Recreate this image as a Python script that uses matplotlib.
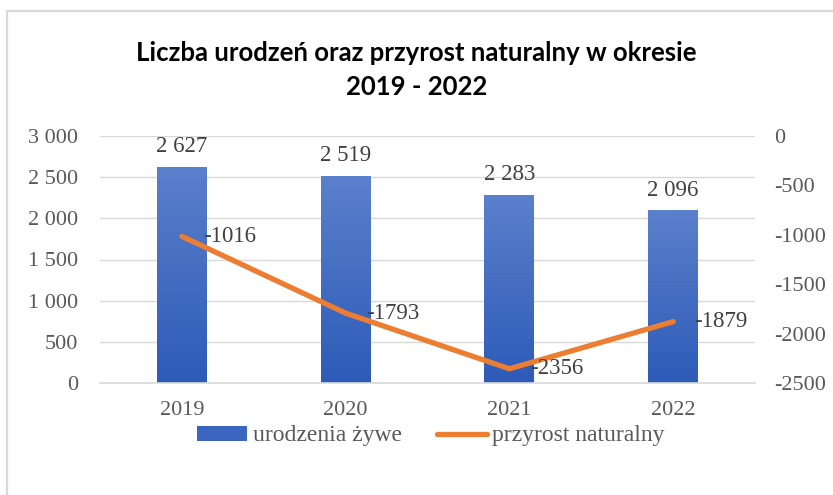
import matplotlib.pyplot as plt
import numpy as np
from matplotlib.lines import Line2D
from matplotlib.patches import Patch

years = ["2019", "2020", "2021", "2022"]
births = [2627, 2519, 2283, 2096]
natural_growth = [-1016, -1793, -2356, -1879]
birth_labels = ["2 627", "2 519", "2 283", "2 096"]
left_ticks = [0, 500, 1000, 1500, 2000, 2500, 3000]
left_tick_labels = ["0", "500", "1 000", "1 500", "2 000", "2 500", "3 000"]
right_ticks = [-2500, -2000, -1500, -1000, -500, 0]

plt.rcParams["axes.unicode_minus"] = False

serif = "Liberation Serif"
text_col = "#595959"
label_col = "#404040"
blue_top = np.array([0x5b, 0x80, 0xcc]) / 255
blue_bot = np.array([0x2d, 0x5b, 0xb8]) / 255
orange = "#ED7D31"

fig = plt.figure(figsize=(8.33, 4.95), dpi=100)
fig.patch.set_facecolor("white")

# frame lines (left and top only)
fig.add_artist(Line2D([7 / 833, 7 / 833], [0, 1 - 11 / 495], color="#d9d9d9", lw=1.6))
fig.add_artist(Line2D([7 / 833, 1], [1 - 11 / 495, 1 - 11 / 495], color="#d9d9d9", lw=1.6))

ax = fig.add_axes([100 / 833, 1 - 383 / 495, 655 / 833, 247 / 495])
x = np.arange(len(years))
bars = ax.bar(x, births, width=0.305, color="none", zorder=2)

# vertical gradient inside each bar
grad = np.linspace(0, 1, 256)[:, None]
cmap_img = blue_bot[None, None, :] * (1 - grad[..., None]) + blue_top[None, None, :] * grad[..., None]
for b in bars:
    x0, y0 = b.get_x(), b.get_y()
    im = ax.imshow(cmap_img, extent=[x0, x0 + b.get_width(), y0, y0 + b.get_height()],
                   origin="lower", aspect="auto", zorder=2)
    im.set_clip_path(b)

ax.set_xlim(-0.5, 3.5)
ax.set_ylim(0, 3000)
ax.set_yticks(left_ticks)
ax.set_yticklabels(left_tick_labels)
ax.set_xticks(x)
ax.set_xticklabels(years)
ax.grid(axis="y", color="#d9d9d9", lw=1.0, zorder=0)
ax.set_axisbelow(True)
for s in ["top", "right", "left"]:
    ax.spines[s].set_visible(False)
ax.spines["bottom"].set_color("#d9d9d9")
ax.spines["bottom"].set_linewidth(1.2)
ax.tick_params(axis="both", length=0, labelsize=16, labelcolor=text_col)
ax.tick_params(axis="y", pad=16)
ax.tick_params(axis="x", pad=13)
for lab in ax.get_xticklabels() + ax.get_yticklabels():
    lab.set_fontfamily(serif)

for xi, v, t in zip(x, births, birth_labels):
    ax.annotate(t, (xi, v), xytext=(0, 7), textcoords="offset points",
                ha="center", va="bottom", fontsize=16.5, family=serif, color=label_col)

ax2 = ax.twinx()
ax2.plot(x, natural_growth, color=orange, lw=3.8, solid_capstyle="round", zorder=3)
ax2.set_ylim(-2500, 0)
ax2.set_yticks(right_ticks)
for s in ["top", "right", "left", "bottom"]:
    ax2.spines[s].set_visible(False)
ax2.tick_params(axis="y", length=0, labelsize=16, labelcolor=text_col, pad=14)
for lab in ax2.get_yticklabels():
    lab.set_fontfamily(serif)

for xi, v in zip(x, natural_growth):
    ax2.annotate(str(v), (xi, v), xytext=(15, 0), textcoords="offset points",
                 ha="left", va="center", fontsize=16.5, family=serif, color=label_col)

fig.text(0.5, 1 - 70 / 495, "Liczba urodzeń oraz przyrost naturalny w okresie\n2019 - 2022",
         ha="center", va="center", fontsize=18.5, fontweight="bold", family="Lato",
         linespacing=1.5, color="black")

handles = [Patch(facecolor="#3a66c0", edgecolor="none"),
           Line2D([0], [0], color=orange, lw=3.8, solid_capstyle="round")]
ax2.legend(handles, ["urodzenia żywe", "przyrost naturalny"], loc="center",
           bbox_to_anchor=(431 / 833, 1 - 436 / 495), bbox_transform=fig.transFigure,
           ncol=2, frameon=False,
           prop={"family": serif, "size": 17}, labelcolor=text_col,
           handlelength=2.1, handleheight=0.6, handletextpad=0.25, columnspacing=1.5)

fig.savefig("out.png", dpi=100)
